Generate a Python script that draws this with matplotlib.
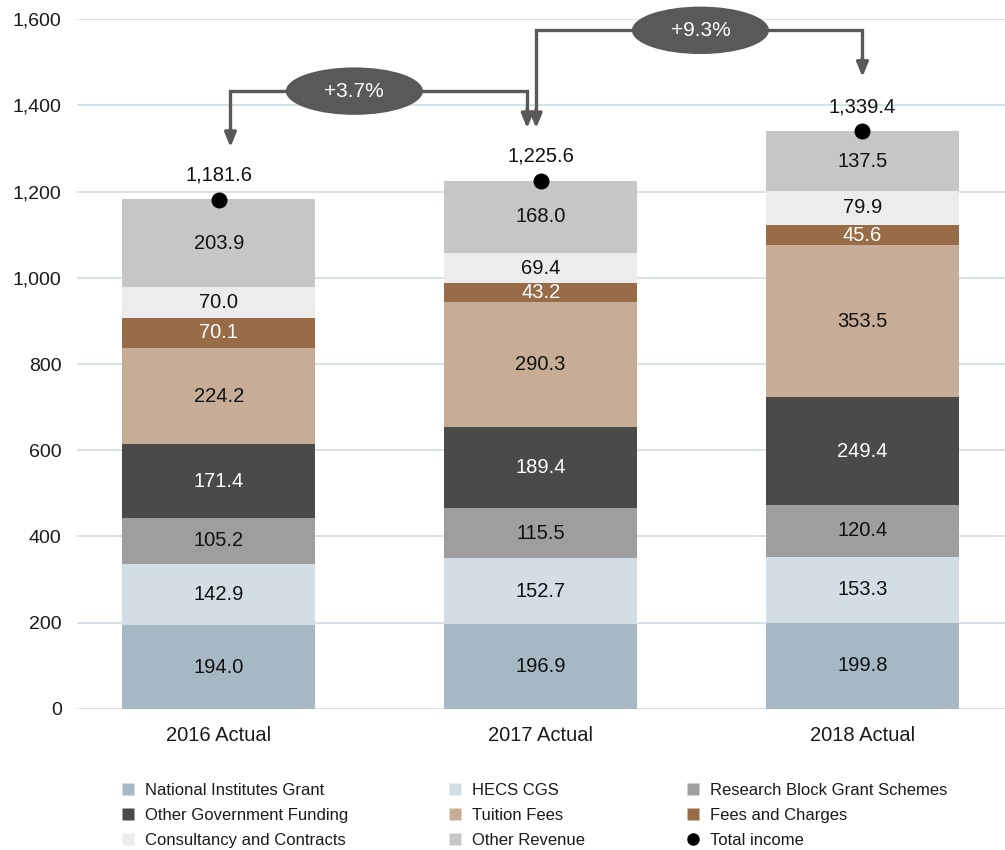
import matplotlib
matplotlib.use('Agg')
import matplotlib.pyplot as plt
from matplotlib.patches import Ellipse
from matplotlib.lines import Line2D
import numpy as np

plt.rcParams['font.family'] = ['Liberation Sans', 'DejaVu Sans']

# ---------------- data ----------------
years = ['2016 Actual', '2017 Actual', '2018 Actual']
series_names = ['National Institutes Grant', 'HECS CGS', 'Research Block Grant Schemes',
                'Other Government Funding', 'Tuition Fees', 'Fees and Charges',
                'Consultancy and Contracts', 'Other Revenue']
national_institutes = [194.0, 196.9, 199.8]
hecs_cgs = [142.9, 152.7, 153.3]
research_block = [105.2, 115.5, 120.4]
other_government = [171.4, 189.4, 249.4]
tuition_fees = [224.2, 290.3, 353.5]
fees_charges = [70.1, 43.2, 45.6]
consultancy = [70.0, 69.4, 79.9]
other_revenue = [203.9, 168.0, 137.5]
total_income = [1181.6, 1225.6, 1339.4]
growth_labels = ['+3.7%', '+9.3%']
y_ticks = [0, 200, 400, 600, 800, 1000, 1200, 1400, 1600]

series_values = [national_institutes, hecs_cgs, research_block, other_government,
                 tuition_fees, fees_charges, consultancy, other_revenue]
colors = ['#A5B8C3', '#D3DEE4', '#9E9E9E', '#4A4A48',
          '#C7AD95', '#976C47', '#ECECEC', '#C6C6C6']
text_colors = ['#111111', '#111111', '#111111', 'white',
               '#111111', 'white', '#111111', '#111111']

# ---------------- figure ----------------
fig = plt.figure(figsize=(10.05, 8.5), dpi=100)
ax = fig.add_axes([0.0766, 0.166, 0.9234, 0.8115])
x = np.arange(len(years))
bar_w = 0.6

bottom = np.zeros(len(years))
for vals, col, tcol in zip(series_values, colors, text_colors):
    vals = np.array(vals)
    ax.bar(x, vals, bar_w, bottom=bottom, color=col, zorder=2, linewidth=0)
    for xi, b, v in zip(x, bottom, vals):
        ax.text(xi, b + v / 2, f'{v:.1f}', ha='center', va='center',
                color=tcol, fontsize=14.5, zorder=4)
    bottom += vals

ax.plot(x, total_income, 'o', color='black', markersize=10.5, zorder=5)
for xi, t in zip(x, total_income):
    ax.text(xi, t + 57, f'{t:,.1f}', ha='center', va='center', fontsize=14.5,
            color='#111111', zorder=5)

# growth connectors
arrow_col = '#595959'
def connector(x0, x1, ytop, tip0, tip1, label, ex):
    ax.plot([x0, x0, x1, x1], [tip0 + 40, ytop, ytop, tip1 + 40], color=arrow_col,
            lw=2.4, solid_joinstyle='miter', zorder=3, solid_capstyle='butt',
            clip_on=False)
    for xx, tip in ((x0, tip0), (x1, tip1)):
        ax.annotate('', xy=(xx, tip), xytext=(xx, tip + 45),
                    arrowprops=dict(arrowstyle='-|>,head_length=0.85,head_width=0.35',
                                    color=arrow_col, lw=2.4, shrinkA=0, shrinkB=0),
                    zorder=3, annotation_clip=False)
    ax.add_patch(Ellipse((ex, ytop), 0.426, 110, facecolor=arrow_col,
                         edgecolor='none', zorder=6, clip_on=False))
    ax.text(ex, ytop, label, ha='center', va='center', color='white',
            fontsize=15, zorder=7, clip_on=False)

connector(x[0] + 0.036, x[1] - 0.042, 1433, 1303, 1347, growth_labels[0], 0.421)
connector(x[1] - 0.0140, x[2], 1574, 1347, 1466, growth_labels[1], 1.4965)

# axes styling
ax.set_xlim(-0.441, 2.443)
ax.set_ylim(0, 1600)
ax.set_yticks(y_ticks)
ax.set_yticklabels([f'{v:,}' for v in y_ticks])
ax.set_xticks(x)
ax.set_xticklabels(years)
ax.tick_params(axis='both', length=0, labelsize=14, colors='#1a1a1a')
ax.tick_params(axis='y', pad=11)
ax.tick_params(axis='x', pad=12, labelsize=14.5)
ax.grid(axis='y', color='#CFDCE4', lw=1.2, zorder=0)
ax.set_axisbelow(True)
for s in ax.spines.values():
    s.set_visible(False)

# legend: three columns
handles = [Line2D([], [], marker='s', linestyle='none', markersize=9,
                  markerfacecolor=c, markeredgecolor='none') for c in colors]
handles.append(Line2D([], [], marker='o', linestyle='none', markersize=9,
                      markerfacecolor='black', markeredgecolor='none'))
labels = series_names + ['Total income']
col_x = [0.121, 0.446, 0.683]
for c in range(3):
    idx = [c, c + 3, c + 6]
    leg = fig.legend([handles[i] for i in idx], [labels[i] for i in idx],
                     loc='upper left', bbox_to_anchor=(col_x[c], 1 - 783 / 850),
                     bbox_transform=fig.transFigure, frameon=False,
                     fontsize=12, handlelength=0.8, handletextpad=0.6,
                     labelspacing=0.6, borderpad=0, borderaxespad=0)
    for t in leg.get_texts():
        t.set_color('#1a1a1a')

fig.savefig('out.png', dpi=100)
